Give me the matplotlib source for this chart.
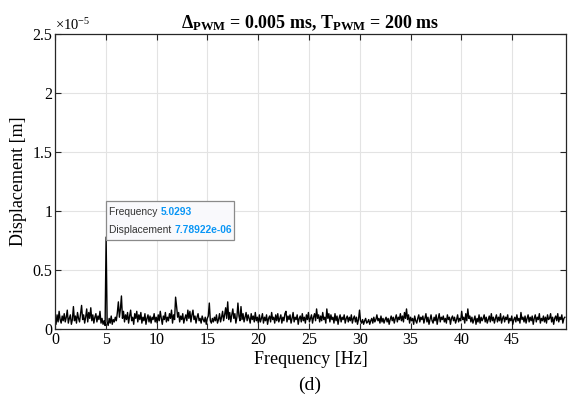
import numpy as np
import matplotlib
matplotlib.use("Agg")
import matplotlib.pyplot as plt
from matplotlib.ticker import FuncFormatter
from matplotlib.patches import Rectangle

plt.rcParams['font.family'] = ['Liberation Serif', 'DejaVu Serif']
plt.rcParams['mathtext.fontset'] = 'custom'
plt.rcParams['mathtext.rm'] = 'Liberation Serif'
plt.rcParams['mathtext.bf'] = 'Liberation Serif:bold'
plt.rcParams['mathtext.it'] = 'Liberation Serif:italic'

# frequency spacing of the spectrum (Hz) and peak data tip
df = 0.100586
peak_freq = 5.0293
peak_disp = 7.78922e-6

# displacement amplitude, in micrometres, one row per Hz
disp_um = [
    0.9, 0.4, 1.2, 0.6, 1.5, 0.8, 0.5, 1.1, 0.7, 1.3,
    0.6, 1.0, 1.6, 0.5, 0.9, 1.2, 0.4, 0.8, 1.9, 0.7,
    1.1, 0.5, 1.4, 0.9, 0.6, 1.3, 2.0, 0.8, 1.2, 0.5,
    1.0, 1.7, 0.6, 1.4, 0.9, 1.8, 0.7, 1.2, 0.5, 1.0,
    1.3, 0.6, 1.1, 0.8, 1.5, 0.5, 0.9, 0.4, 0.7, 0.3,
    7.78922, 0.6, 0.3, 0.9, 0.5, 1.1, 0.4, 0.8, 0.6, 1.0,
    0.7, 1.4, 2.3, 1.0, 1.7, 2.8, 0.9, 1.5, 0.6, 1.2,
    0.8, 1.4, 0.5, 1.1, 1.6, 0.7, 1.0, 0.4, 1.3, 0.9,
    1.5, 0.6, 1.2, 0.8, 1.4, 0.5, 1.0, 0.7, 1.3, 0.4,
    0.9, 1.2, 0.6, 1.1, 0.5, 1.0, 0.8, 1.3, 0.6, 1.0,
    0.5, 1.2, 0.7, 1.5, 0.9, 0.4, 1.1, 0.8, 1.4, 0.6,
    1.0, 0.7, 1.3, 0.9, 1.6, 0.5, 1.2, 0.8, 2.7, 1.9,
    1.0, 1.4, 0.6, 1.1, 0.8, 1.3, 0.5, 0.9, 1.2, 0.7,
    1.6, 0.9, 1.5, 0.6, 1.2, 1.6, 0.8, 1.1, 0.5, 1.0,
    1.3, 0.7, 0.9, 0.5, 1.1, 0.8, 0.6, 1.0, 0.4, 0.9,
    1.1, 2.2, 0.7, 0.5, 0.9, 0.6, 1.0, 0.7, 1.2, 0.5,
    0.8, 1.3, 0.6, 1.0, 1.5, 0.7, 1.2, 1.8, 0.9, 2.3,
    0.8, 1.4, 0.6, 1.2, 1.7, 0.9, 1.3, 0.5, 1.0, 2.2,
    1.1, 0.7, 1.9, 0.8, 1.3, 0.6, 1.0, 1.4, 0.7, 1.2,
    0.9, 0.5, 1.3, 0.8, 1.1, 0.6, 1.4, 0.7, 1.0, 0.5,
    1.2, 0.6, 0.9, 1.3, 0.5, 1.0, 0.7, 1.2, 0.4, 0.9,
    1.1, 0.6, 1.4, 0.8, 1.0, 0.5, 1.2, 0.7, 1.3, 0.6,
    0.9, 1.2, 0.5, 1.0, 0.7, 1.3, 1.5, 0.6, 1.1, 0.8,
    1.2, 0.5, 0.9, 1.4, 0.6, 1.0, 0.8, 1.2, 0.4, 0.9,
    1.1, 0.6, 1.3, 0.7, 1.0, 0.5, 1.2, 0.8, 1.4, 0.6,
    0.9, 1.2, 0.5, 1.0, 1.3, 0.7, 1.7, 0.9, 1.2, 0.6,
    1.1, 0.7, 1.4, 0.8, 1.0, 0.5, 1.7, 0.9, 1.3, 0.6,
    1.2, 0.8, 1.0, 0.5, 1.3, 0.7, 1.1, 0.4, 0.9, 1.2,
    0.6, 1.0, 0.8, 1.2, 0.5, 0.9, 1.1, 0.6, 1.0, 0.7,
    1.2, 0.5, 0.9, 1.1, 0.6, 1.0, 0.4, 0.8, 1.6, 0.7,
    0.5, 0.8, 0.4, 0.7, 0.9, 0.5, 0.6, 0.8, 0.4, 0.7,
    0.9, 0.5, 1.0, 0.6, 0.8, 1.2, 0.7, 0.9, 0.5, 1.1,
    0.6, 0.9, 0.5, 0.8, 1.0, 0.6, 0.9, 0.4, 0.8, 1.1,
    0.7, 1.0, 0.5, 0.9, 1.2, 0.6, 1.0, 0.8, 1.3, 0.7,
    1.1, 0.6, 1.4, 0.9, 1.7, 0.8, 1.2, 0.5, 1.0, 0.7,
    0.9, 0.4, 1.1, 0.7, 0.5, 0.9, 1.2, 0.6, 1.0, 0.8,
    1.1, 0.5, 0.9, 1.3, 0.6, 1.0, 0.4, 0.8, 1.2, 0.7,
    0.5, 1.0, 0.7, 1.2, 0.4, 0.9, 1.3, 0.6, 1.0, 0.8,
    1.1, 0.6, 0.9, 0.5, 1.2, 0.8, 1.0, 0.4, 0.9, 1.1,
    0.7, 1.0, 0.5, 0.8, 1.2, 0.6, 0.9, 0.7, 1.5, 0.8,
    1.0, 0.5, 1.3, 0.7, 1.7, 0.9, 1.1, 0.6, 1.0, 0.5,
    0.8, 1.1, 0.4, 0.9, 0.6, 1.2, 0.5, 1.0, 0.7, 0.9,
    1.2, 0.6, 1.0, 0.5, 0.8, 1.1, 0.6, 1.3, 0.7, 1.0,
    0.5, 0.9, 1.2, 0.6, 1.0, 0.7, 1.3, 0.5, 0.9, 1.1,
    0.6, 1.0, 0.8, 1.2, 0.5, 0.9, 0.7, 1.1, 0.4, 0.8,
    1.0, 0.6, 1.2, 0.7, 0.9, 0.5, 1.4, 0.8, 1.0, 0.6,
    1.1, 0.5, 0.9, 1.2, 0.6, 1.0, 0.7, 1.1, 0.4, 0.9,
    1.2, 0.6, 1.0, 0.8, 1.3, 0.5, 0.9, 0.7, 1.1, 0.6,
    1.0, 0.5, 1.2, 0.8, 0.9, 1.3, 0.6, 1.0, 0.4, 0.9,
    1.1, 0.7, 1.3, 0.6, 1.0, 0.8, 1.2, 0.5, 0.9, 1.0,
]

x_ticks = [0, 5, 10, 15, 20, 25, 30, 35, 40, 45]
y_ticks = [0, 0.5, 1, 1.5, 2, 2.5]  # x 1e-5

freq = np.arange(len(disp_um)) * df
disp = np.array(disp_um) * 1e-6
scale = 1e-5

fig = plt.figure(figsize=(5.69, 4.08), dpi=100)
ax = fig.add_axes([0.0967, 0.1936, 0.8980, 0.7231])

ax.plot(freq, disp / scale, color='black', lw=1.0)

ax.set_xlim(0, 50.3)
ax.set_ylim(0, 2.5)
ax.set_xticks(x_ticks)
ax.set_yticks(y_ticks)
ax.yaxis.set_major_formatter(FuncFormatter(lambda v, p: f'{v:g}'))
ax.grid(True, color='#e3e3e3', lw=0.8)
ax.set_axisbelow(True)
ax.tick_params(direction='in', top=True, right=True, length=4,
               width=0.8, color='#262626', labelsize=11.5, pad=2)
for s in ax.spines.values():
    s.set_color('#262626')
    s.set_linewidth(0.9)

ax.set_xlabel('Frequency [Hz]', fontsize=13, labelpad=2)
ax.set_ylabel('Displacement [m]', fontsize=13, labelpad=4)
ax.set_title(r'$\mathbf{\Delta_{PWM}}$ = 0.005 ms, T$_{\mathbf{PWM}}$ = 200 ms',
             fontsize=13, fontweight='bold', pad=4)
ax.text(0.0, 1.005, r'$\times 10^{-5}$', transform=ax.transAxes,
        fontsize=10.5, va='bottom', ha='left')

# data tip
ax.add_patch(Rectangle((5.0, 0.755), 12.6, 0.33, facecolor='#f9f9fc',
                       edgecolor='#8a8a8a', lw=0.9, zorder=5))
tip_font = dict(family='Liberation Sans', fontsize=7.4, zorder=6)
t1 = ax.text(5.35, 0.99, 'Frequency ', color='#333333', va='center', **tip_font)
ax.annotate('5.0293', xy=(1, 0), xycoords=t1, va='bottom',
            color='#0a96f5', fontweight='bold', **tip_font)
t2 = ax.text(5.35, 0.84, 'Displacement ', color='#333333', va='center', **tip_font)
ax.annotate('7.78922e-06', xy=(1, 0), xycoords=t2, va='bottom',
            color='#0a96f5', fontweight='bold', **tip_font)

fig.text(0.545, 0.055, '(d)', fontsize=14, ha='center', va='center')

fig.savefig('out.png', dpi=100)
